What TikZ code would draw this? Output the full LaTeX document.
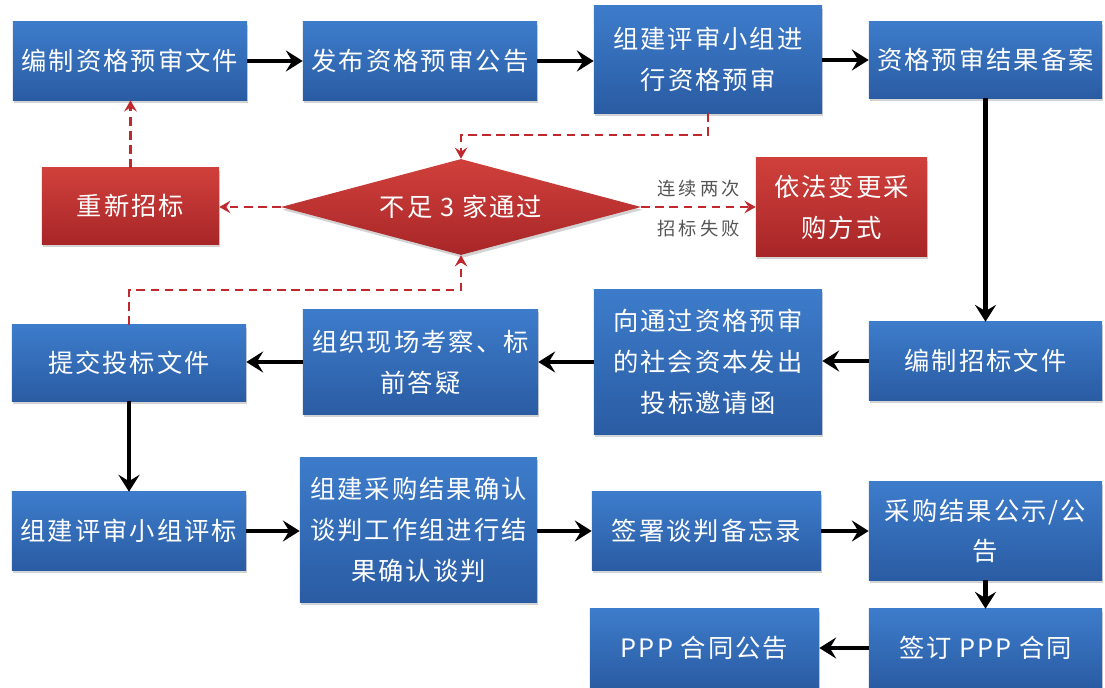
\documentclass[tikz,border=0pt]{standalone}
\usepackage{fontspec}
\newfontfamily\cjk[LetterSpace=8]{Noto Sans CJK SC}
\newfontfamily\cjknote[LetterSpace=18]{Noto Sans CJK SC}
\usetikzlibrary{shapes,arrows.meta,positioning,calc,shadows}
\definecolor{blueTop}{HTML}{3D7CCB}
\definecolor{blueBot}{HTML}{2A5CA3}
\definecolor{redTop}{HTML}{D0403B}
\definecolor{redBot}{HTML}{A82628}
\definecolor{dashRed}{HTML}{C0282D}
\definecolor{noteGray}{HTML}{555555}

\begin{document}
\begin{tikzpicture}[x=0.025cm, y=-0.025cm, >={Stealth[length=12pt,width=15pt,inset=4.5pt]}]
\tikzset{
block/.style    = {shape=rectangle, top color=blueTop, bottom color=blueBot, text=white, font=\cjk\fontsize{18pt}{29pt}\selectfont, minimum width=5.85cm, minimum height=1.95cm, inner sep=2pt, align=center, drop shadow={opacity=0.35, shadow xshift=1pt, shadow yshift=-2pt}},
redblock/.style = {block, top color=redTop, bottom color=redBot},
decision/.style = {redblock, shape=diamond, aspect=3.75, minimum width=9cm, minimum height=2.4cm, inner sep=0pt},
mainline/.style = {->, line width=3.4pt},
backline/.style = {-{Stealth[length=8pt,width=9pt,inset=3pt]}, draw=dashRed, line width=1.7pt, dash pattern=on 6pt off 4pt},
note/.style     = {text=noteGray, font=\cjknote\fontsize{13pt}{15pt}\selectfont},
}
    \useasboundingbox (0,0) rectangle (1105,688);

    % Main nodes
    \node [block]                                          (prepare)  at (130,61)    {编制资格预审文件};
    \node [block]                                          (publish)  at (420,61)    {发布资格预审公告};
    \node [block, minimum width=5.7cm, minimum height=2.675cm]  (review)   at (708,59.5)  {组建评审小组进\\行资格预审};
    \node [block, minimum width=5.825cm, minimum height=1.9cm]  (record)   at (985.5,60)  {资格预审结果备案};
    \node [block, minimum width=5.825cm]                   (bidfile)  at (985.5,361) {编制招标文件};
    \node [block, minimum width=5.7cm, minimum height=3.625cm]  (invite)   at (708,362)   {向通过资格预审\\的社会资本发出\\投标邀请函};
    \node [block, minimum width=5.875cm, minimum height=2.625cm] (visit)    at (420.5,362) {组织现场考察、标\\前答疑};
    \node [block, minimum height=1.9cm]                    (submit)   at (129,363)   {提交投标文件};
    \node [block]                                          (evaluate) at (129,531)   {组建评审小组评标};
    \node [block, minimum width=5.925cm, minimum height=3.625cm] (confirm)  at (418.5,530) {组建采购结果确认\\谈判工作组进行结\\果确认谈判};
    \node [block, minimum width=5.725cm]                   (memo)     at (706.5,531) {签署谈判备忘录};
    \node [block, minimum width=5.825cm, minimum height=2.45cm] (notice)   at (985.5,531) {采购结果公示/公\\告};
    \node [block, minimum width=5.825cm]                   (sign)     at (985.5,648) {签订 PPP 合同};
    \node [block, minimum width=5.725cm]                   (announce) at (704.5,648) {PPP 合同公告};

    % Failure branch
    \node [redblock, minimum width=4.425cm, minimum height=1.9cm]  (retender) at (130.5,206) {重新招标};
    \node [decision]                                              (check)    at (461,207)   {不足 3 家通过};
    \node [redblock, minimum width=4.275cm, minimum height=2.45cm] (change)   at (841.5,207) {依法变更采\\购方式};
    \coordinate (upjoint)  at (461,135);
    \coordinate (lowjoint) at (461,290);

    % Main edges
    \draw [mainline]  (prepare.east)  --  (publish.west);
    \draw [mainline]  (publish.east)  --  (publish.east -| review.west);
    \draw [mainline]  (review.east |- record.west)  --  (record.west);
    \draw [mainline]  (record.south)  --  (bidfile.north);
    \draw [mainline]  (bidfile.west)  --  (bidfile.west -| invite.east);
    \draw [mainline]  (invite.west)   --  (invite.west -| visit.east);
    \draw [mainline]  (visit.west)    --  (visit.west -| submit.east);
    \draw [mainline]  (submit.south)  --  (evaluate.north);
    \draw [mainline]  (evaluate.east) --  (evaluate.east -| confirm.west);
    \draw [mainline]  (confirm.east |- memo.west)  --  (memo.west);
    \draw [mainline]  (memo.east)     --  (memo.east -| notice.west);
    \draw [mainline]  (notice.south)  --  (sign.north);
    \draw [mainline]  (sign.west)     --  (sign.west -| announce.east);

    % Dashed edges
    \draw [backline]  (review.south)  |-  (upjoint)  --  (check.north);
    \draw [backline]  (submit.north)  |-  (lowjoint) --  (check.south);
    \draw [backline]  (check.west)    --  (check.west -| retender.east);
    \draw [backline]  (retender.north) --  (retender.north |- prepare.south);
    \draw [backline]  (check.east)    --  node [note, above=3pt] {连续两次} node [note, below=5pt] {招标失败} (change.west);

\end{tikzpicture}
\end{document}
